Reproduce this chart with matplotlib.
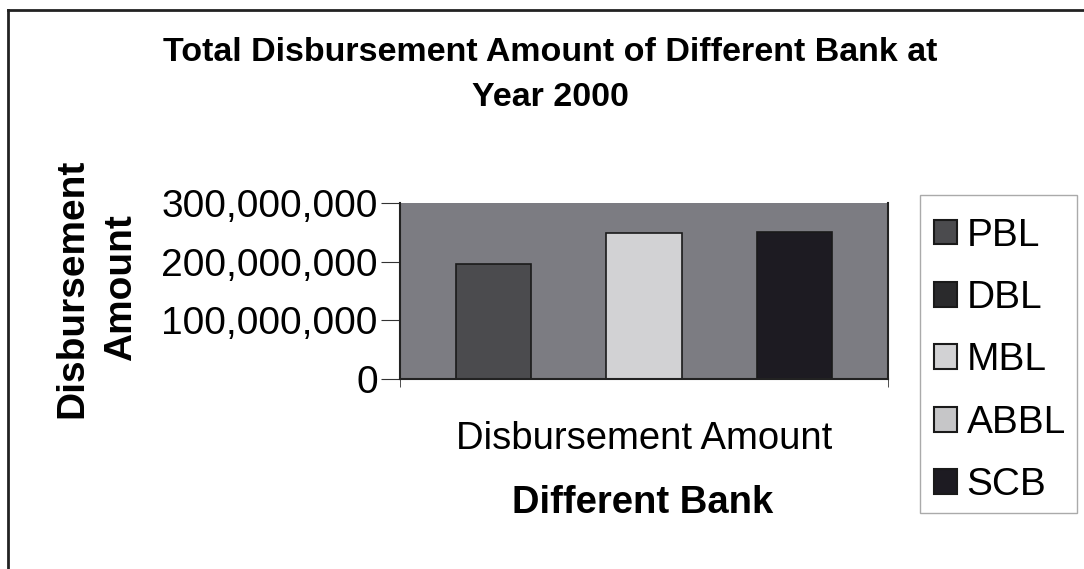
import matplotlib
matplotlib.use("Agg")
import matplotlib.pyplot as plt
import numpy as np
from matplotlib.ticker import FuncFormatter, FixedLocator
from matplotlib.patches import Patch, Rectangle
from matplotlib.lines import Line2D

plt.rcParams['font.family'] = ['Liberation Sans', 'DejaVu Sans']

title = "Total Disbursement Amount of Different Bank at\nYear 2000"
category = ["Disbursement Amount"]
banks = ["PBL", "DBL", "MBL", "ABBL", "SCB"]
values = [196_000_000, 0, 249_000_000, 0, 250_000_000]
colors = ["#4b4b4e", "#2a2a2c", "#d2d2d4", "#c6c6c8", "#1d1b22"]
yticks = [0, 100_000_000, 200_000_000, 300_000_000]

fig = plt.figure(figsize=(10.84, 5.69), dpi=100)
fig.patch.set_facecolor("white")
ax = fig.add_axes([400/1084, 1-379/569, 488/1084, 176/569])
ax.set_facecolor("#7c7c82")

w = 1/6.5
n = len(banks)
for i, (b, v, c) in enumerate(zip(banks, values, colors)):
    ax.bar(0 + (i - (n-1)/2) * w, v, width=w, color=c, edgecolor="#1a1a1a",
           linewidth=1.2, label=b, zorder=2)

ax.set_xlim(-0.5, 0.5)
ax.set_ylim(0, 300_000_000)
ax.yaxis.set_major_locator(FixedLocator(yticks))
ax.yaxis.set_major_formatter(FuncFormatter(lambda v, p: f"{int(v):,}"))
ax.set_xticks([-0.5, 0.5], minor=True)
ax.set_xticks([0])
ax.set_xticklabels(category, fontsize=27.5)
ax.tick_params(axis='x', which='major', length=0, pad=30)
ax.tick_params(axis='x', which='minor', length=6, direction='out', color='#333')
ax.tick_params(axis='y', labelsize=28, length=14, direction='out', color='#333', pad=2)
for s in ['left', 'bottom', 'right']:
    ax.spines[s].set_color('#222')
    ax.spines[s].set_linewidth(1.5)
ax.spines['top'].set_visible(False)

fig.text(0.5 + 8/1084, 1-75/569, title, ha='center', va='center', fontsize=24.5,
         fontweight='bold', linespacing=1.6)
fig.text(97/1084, 1-288/569, "Disbursement\nAmount", rotation=90, ha='center',
         va='center', fontsize=28, fontweight='bold', multialignment='center',
         linespacing=1.45)
fig.text(643/1084, 1-503/569, "Different Bank", ha='center', va='center',
         fontsize=27.5, fontweight='bold')

handles = [Patch(facecolor=c, edgecolor='#1a1a1a', linewidth=1.5) for c in colors]
leg = fig.legend(handles, banks, loc='upper left',
                 bbox_to_anchor=(920/1084, 1-204/569), fontsize=28,
                 frameon=False, handlelength=0.6,
                 handleheight=0.6, handletextpad=0.25, labelspacing=0.68,
                 borderpad=0.35, borderaxespad=0)

# legend frame
fig.add_artist(Rectangle((920/1084, 1-513/569), 157/1084, 318/569,
                         transform=fig.transFigure, fill=False,
                         edgecolor='#aaa', linewidth=1.0))

# outer frame lines (left and top)
fig.add_artist(Line2D([8/1084, 8/1084], [0, 1-10/569], color='#222', lw=2,
                      transform=fig.transFigure))
fig.add_artist(Line2D([8/1084, 1], [1-10/569, 1-10/569], color='#222', lw=2,
                      transform=fig.transFigure))

fig.savefig("out.png", dpi=100)
